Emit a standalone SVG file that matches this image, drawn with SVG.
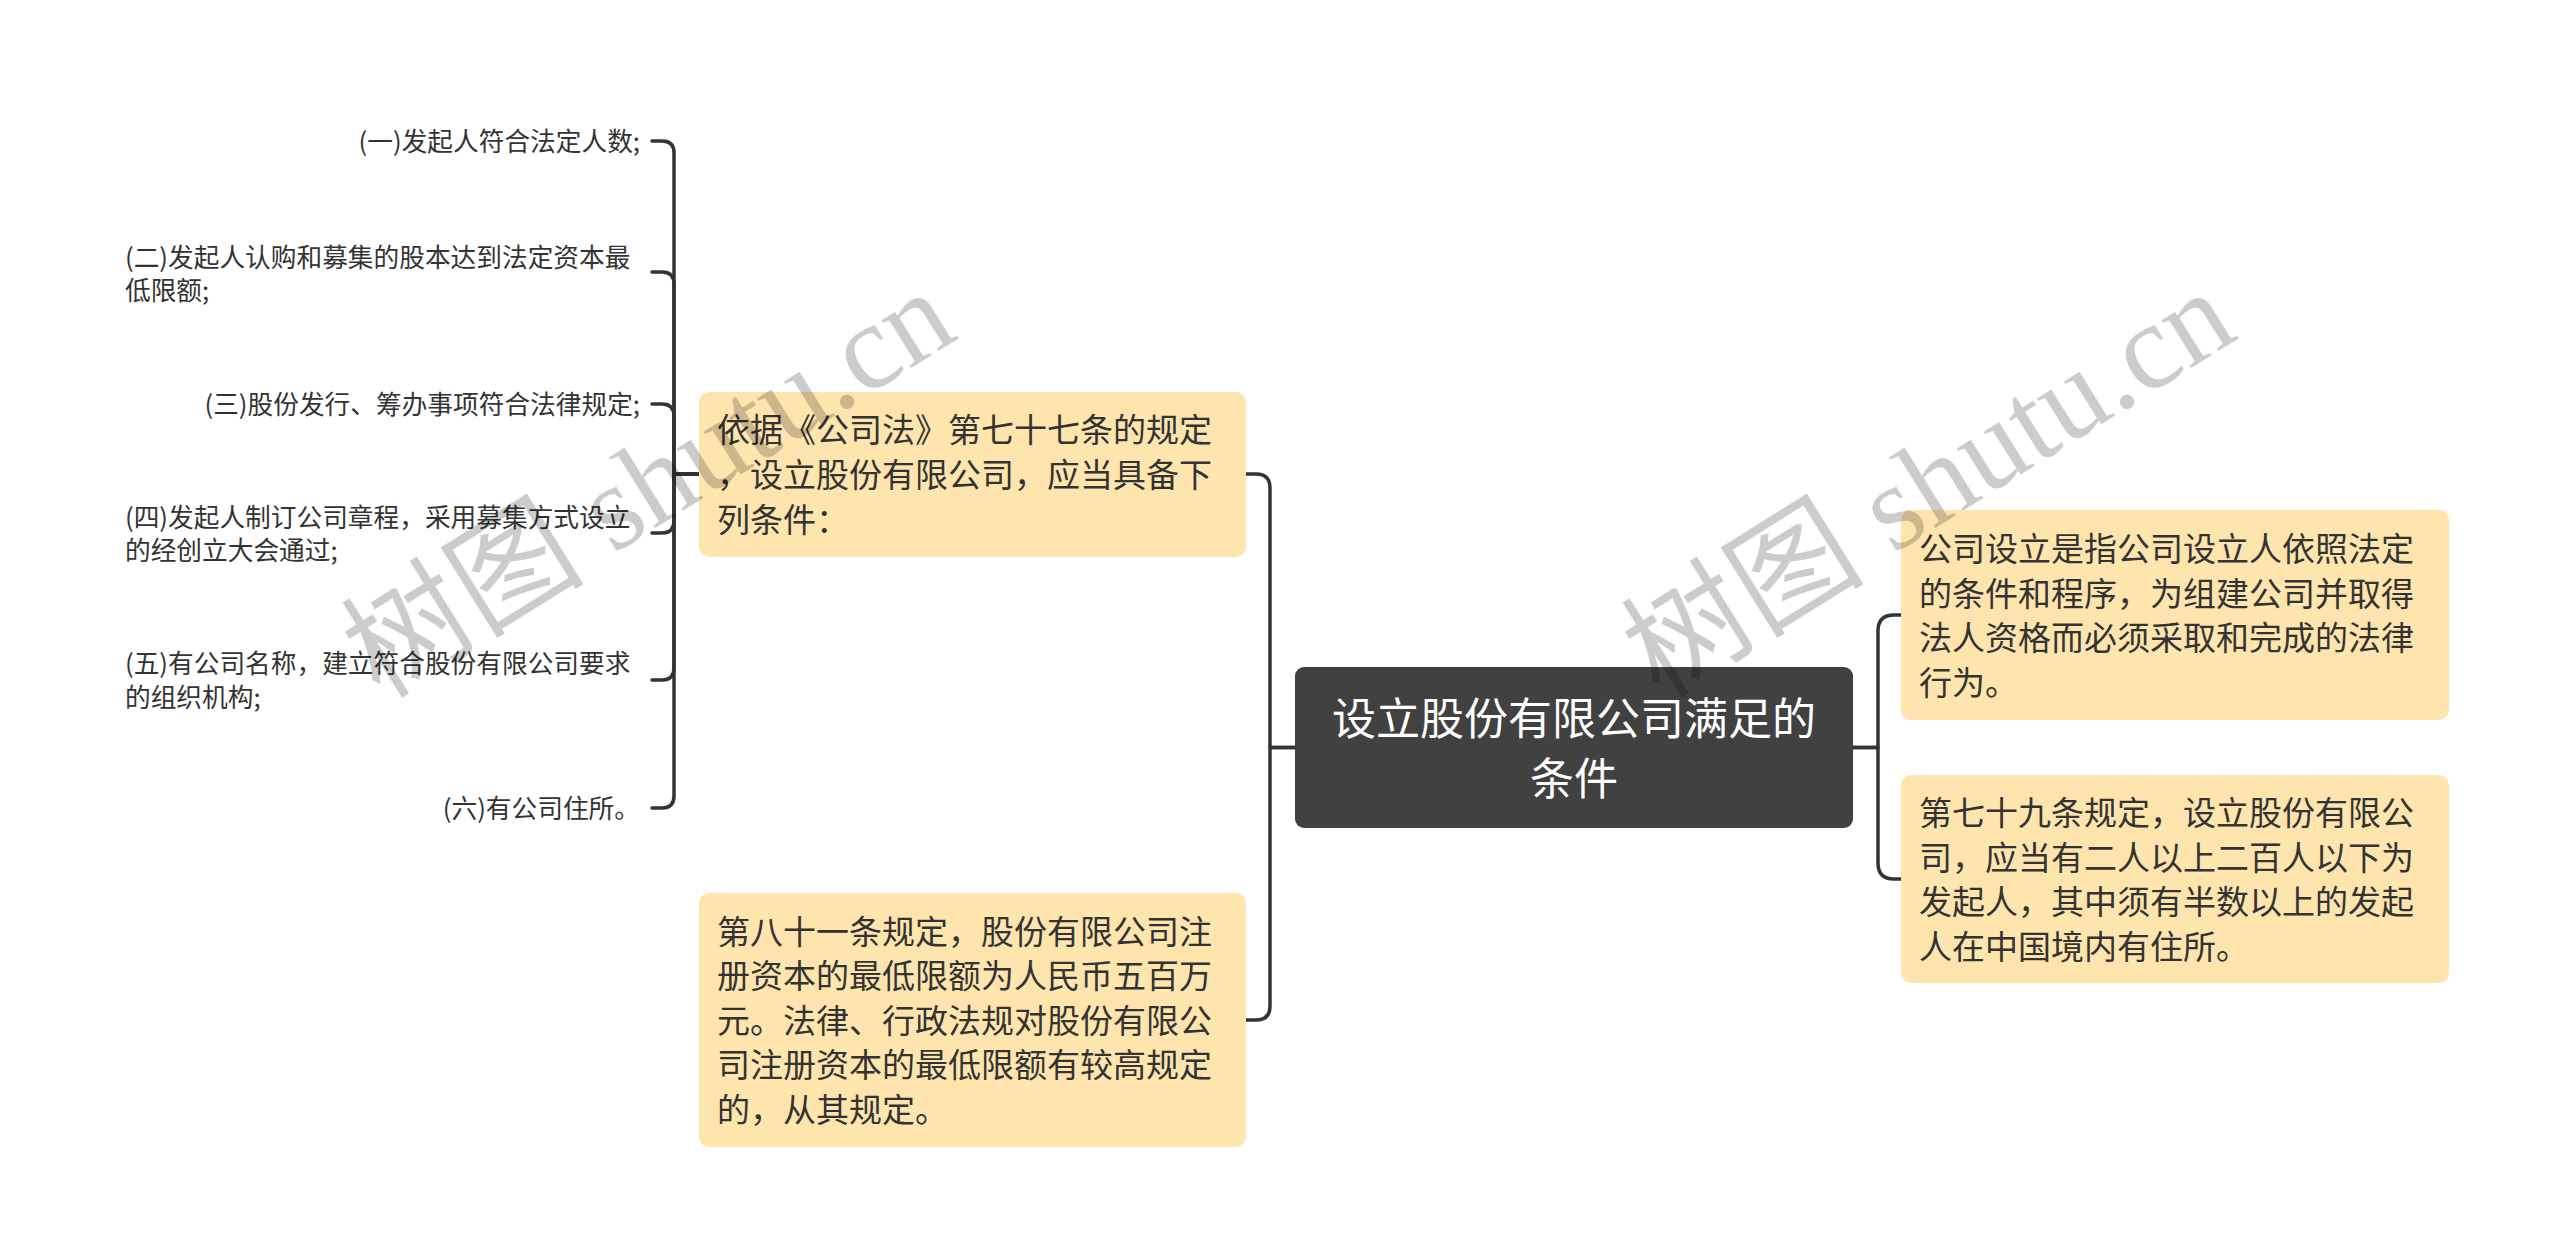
<svg xmlns="http://www.w3.org/2000/svg" width="2560" height="1258" viewBox="0 0 2560 1258">
<style>
.bg{fill:#ffffff}
.box{fill:#FEE5AE}
.root{fill:#414141}
.t{font-family:"Noto Sans CJK SC","Noto Sans",sans-serif;fill:#333333}
.bt{font-size:33px}
.lt{font-size:25.7px}
.rt{font-family:"Noto Sans CJK SC","Noto Sans",sans-serif;font-size:44px;fill:#ffffff}
.conn{fill:none;stroke:#333333;stroke-width:3.5;stroke-linecap:round;stroke-linejoin:round}
.wm{font-family:"Liberation Serif","Noto Sans CJK SC",serif;font-size:122px;fill:#000000;fill-opacity:0.2}
</style>
<rect class="bg" x="0" y="0" width="2560" height="1258"/>

<g id="connectors">
  <path class="conn" d="M1295,747.5 H1270 V488 Q1270,474 1256,474 H1246"/>
  <path class="conn" d="M1295,747.5 H1270 V1006 Q1270,1020 1256,1020 H1246"/>
  <path class="conn" d="M1853,747.5 H1878 V631 Q1878,615 1894,615 H1901"/>
  <path class="conn" d="M1853,747.5 H1878 V863 Q1878,879 1894,879 H1901"/>
  <path class="conn" d="M699,474 H674 V153 Q674,141 662,141 H652"/>
  <path class="conn" d="M699,474 H674 V284 Q674,272 662,272 H652"/>
  <path class="conn" d="M699,474 H674 V416 Q674,404 662,404 H652"/>
  <path class="conn" d="M699,474 H674 V521 Q674,533 662,533 H652"/>
  <path class="conn" d="M699,474 H674 V668 Q674,680 662,680 H652"/>
  <path class="conn" d="M699,474 H674 V796 Q674,808 662,808 H652"/>
</g>

<g id="root">
  <rect class="root" x="1295" y="667" width="558" height="161" rx="9"/>
  <text class="rt" x="1574" y="735" text-anchor="middle">设立股份有限公司满足的</text>
  <text class="rt" x="1574" y="795" text-anchor="middle">条件</text>
</g>

<g id="node-basis">
  <rect class="box" x="699" y="392" width="547" height="165" rx="10"/>
  <text class="t bt" x="717"><tspan x="717" y="442">依据《公司法》第七十七条的规定</tspan><tspan x="717" y="487">，设立股份有限公司，应当具备下</tspan><tspan x="717" y="532">列条件：</tspan></text>
</g>

<g id="node-capital">
  <rect class="box" x="699" y="893" width="547" height="254" rx="10"/>
  <text class="t bt" x="717"><tspan x="717" y="943.5">第八十一条规定，股份有限公司注</tspan><tspan x="717" y="988">册资本的最低限额为人民币五百万</tspan><tspan x="717" y="1032.5">元。法律、行政法规对股份有限公</tspan><tspan x="717" y="1077">司注册资本的最低限额有较高规定</tspan><tspan x="717" y="1121.5">的，从其规定。</tspan></text>
</g>

<g id="node-definition">
  <rect class="box" x="1901" y="510" width="548" height="210" rx="10"/>
  <text class="t bt" x="1919"><tspan x="1919" y="561">公司设立是指公司设立人依照法定</tspan><tspan x="1919" y="605.5">的条件和程序，为组建公司并取得</tspan><tspan x="1919" y="650">法人资格而必须采取和完成的法律</tspan><tspan x="1919" y="694.5">行为。</tspan></text>
</g>

<g id="node-promoters">
  <rect class="box" x="1901" y="775" width="548" height="208" rx="10"/>
  <text class="t bt" x="1919"><tspan x="1919" y="825">第七十九条规定，设立股份有限公</tspan><tspan x="1919" y="869.5">司，应当有二人以上二百人以下为</tspan><tspan x="1919" y="914">发起人，其中须有半数以上的发起</tspan><tspan x="1919" y="958.5">人在中国境内有住所。</tspan></text>
</g>

<g id="leaf-1">
  <text class="t lt" x="640" y="151" text-anchor="end">(一)发起人符合法定人数;</text>
</g>
<g id="leaf-2">
  <text class="t lt"><tspan x="125" y="267">(二)发起人认购和募集的股本达到法定资本最</tspan><tspan x="125" y="300">低限额;</tspan></text>
</g>
<g id="leaf-3">
  <text class="t lt" x="640" y="414" text-anchor="end">(三)股份发行、筹办事项符合法律规定;</text>
</g>
<g id="leaf-4">
  <text class="t lt"><tspan x="125" y="527">(四)发起人制订公司章程，采用募集方式设立</tspan><tspan x="125" y="560">的经创立大会通过;</tspan></text>
</g>
<g id="leaf-5">
  <text class="t lt"><tspan x="125" y="673">(五)有公司名称，建立符合股份有限公司要求</tspan><tspan x="125" y="707">的组织机构;</tspan></text>
</g>
<g id="leaf-6">
  <text class="t lt" x="640" y="818" text-anchor="end">(六)有公司住所。</text>
</g>

<g id="watermarks">
  <text class="wm" transform="translate(380,700) rotate(-32)">树图 shutu.cn</text>
  <text class="wm" transform="translate(1660,700) rotate(-32)">树图 shutu.cn</text>
</g>
</svg>
